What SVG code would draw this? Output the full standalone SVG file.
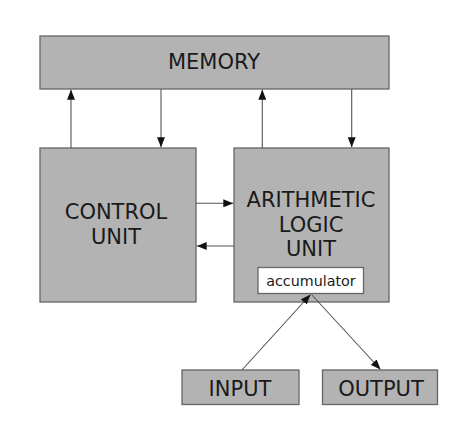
<svg xmlns="http://www.w3.org/2000/svg" width="474" height="424" viewBox="0 0 474 424">
<style>
.box{fill:#b3b3b3;stroke:#666;stroke-width:1.3}
.acc{fill:#fff;stroke:#666;stroke-width:1.3}
.t{font-family:"DejaVu Sans",sans-serif;font-size:21px;fill:#1a1a1a;text-anchor:middle}
.ts{font-family:"DejaVu Sans",sans-serif;font-size:14.3px;fill:#1a1a1a;text-anchor:middle}
.c{stroke:#555;stroke-width:1.1;fill:none;marker-end:url(#ah)}
</style>
<defs>
<marker id="ah" viewBox="0 0 10 8" refX="10" refY="4" markerWidth="10" markerHeight="8" markerUnits="userSpaceOnUse" orient="auto">
<path d="M0,0 L10,4 L0,8 z" fill="#111"/>
</marker>
</defs>
<rect width="474" height="424" fill="#fff"/>
<g id="memory"><rect class="box" x="40" y="36" width="349" height="53"/><text class="t" x="214" y="69">MEMORY</text></g>
<g id="control-unit"><rect class="box" x="40" y="148" width="156" height="154"/><text class="t" x="116" y="219">CONTROL</text><text class="t" x="116" y="244">UNIT</text></g>
<g id="alu"><rect class="box" x="234" y="148" width="155" height="154"/><text class="t" x="311" y="207">ARITHMETIC</text><text class="t" x="311" y="232">LOGIC</text><text class="t" x="311" y="256">UNIT</text></g>
<g id="accumulator"><rect class="acc" x="258" y="267.5" width="105.5" height="26"/><text class="ts" x="311" y="286">accumulator</text></g>
<g id="input"><rect class="box" x="182" y="370" width="117" height="34.5"/><text class="t" x="240" y="396">INPUT</text></g>
<g id="output"><rect class="box" x="322.5" y="370" width="115" height="34.5"/><text class="t" x="381" y="396">OUTPUT</text></g>
<g id="connectors">
<line class="c" x1="71" y1="148" x2="71" y2="89.7"/>
<line class="c" x1="161" y1="89" x2="161" y2="147.3"/>
<line class="c" x1="262.3" y1="148" x2="262.3" y2="89.7"/>
<line class="c" x1="351.7" y1="89" x2="351.7" y2="147.3"/>
<line class="c" x1="196" y1="203.3" x2="233.3" y2="203.3"/>
<line class="c" x1="234" y1="246" x2="196.7" y2="246"/>
<line class="c" x1="242" y1="370" x2="310.5" y2="294.5"/>
<line class="c" x1="311.5" y1="294.5" x2="380.5" y2="369.5"/>
</g>
</svg>
